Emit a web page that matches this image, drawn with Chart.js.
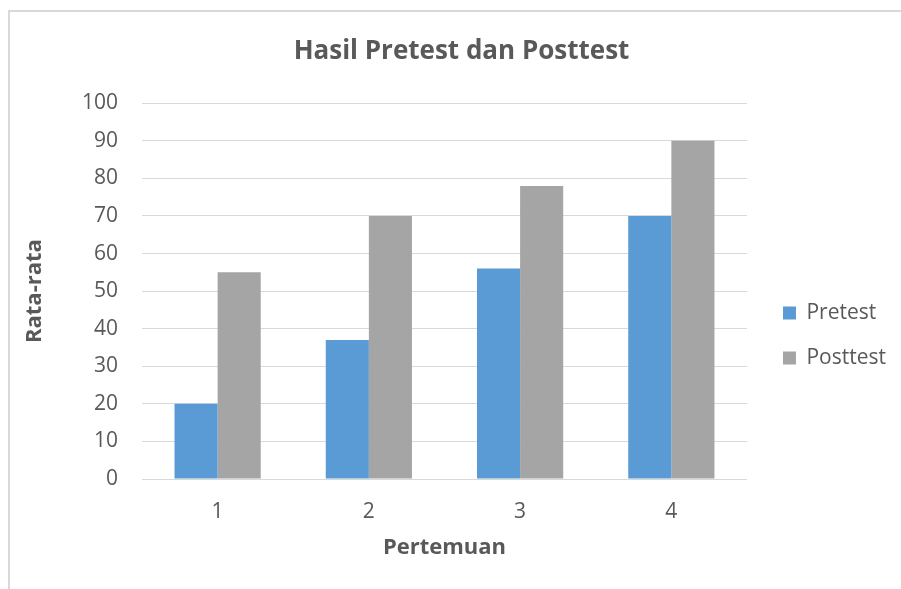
<!DOCTYPE html>
<html>
<head>
<meta charset="utf-8">
<script src="https://cdn.jsdelivr.net/npm/chart.js@4.4.1/dist/chart.umd.min.js"></script>
<style>
  html, body { margin: 0; padding: 0; background: #ffffff; }
  #wrap { position: relative; width: 901px; height: 589px; overflow: hidden; }
  #frame { position: absolute; left: 8px; top: 10px; width: 1000px; height: 1000px;
           border-left: 2px solid #D9D9D9; border-top: 2px solid #D9D9D9; box-sizing: border-box; }
  canvas { position: absolute; left: 0; top: 0; }
</style>
</head>
<body>
<div id="wrap">
  <div id="frame"></div>
  <canvas id="c" width="901" height="589"></canvas>
</div>
<script>
const categories = ['1', '2', '3', '4'];
const pretest = [20, 37, 56, 70];
const posttest = [55, 70, 78, 90];
const seriesNames = ['Pretest', 'Posttest'];
const chartTitle = 'Hasil Pretest dan Posttest';
const xTitle = 'Pertemuan';
const yTitle = 'Rata-rata';

const FONT = "'Open Sans', sans-serif";
const TXT = '#595959';

new Chart(document.getElementById('c'), {
  type: 'bar',
  data: {
    labels: categories,
    datasets: [
      { label: seriesNames[0], data: pretest, backgroundColor: '#5B9BD5', borderWidth: 0 },
      { label: seriesNames[1], data: posttest, backgroundColor: '#A5A5A5', borderWidth: 0 }
    ]
  },
  options: {
    responsive: false,
    animation: false,
    devicePixelRatio: 1,
    categoryPercentage: 0.57,
    barPercentage: 1.0,
    layout: { padding: { left: 27, right: 5, top: 36, bottom: 24 } },
    plugins: {
      title: {
        display: true, text: chartTitle, color: TXT,
        font: { family: FONT, size: 26, weight: 'bold' },
        padding: { top: 0, bottom: 36 }
      },
      legend: {
        position: 'right',
        title: { display: true, text: '', padding: 23, font: { size: 20 } },
        labels: {
          color: TXT, boxWidth: 13, boxHeight: 13, padding: 24,
          font: { family: FONT, size: 21 }
        }
      },
      tooltip: { enabled: false }
    },
    scales: {
      x: {
        grid: { display: false, drawTicks: false },
        border: { display: false },
        ticks: { color: TXT, font: { family: FONT, size: 21 }, padding: 20 },
        title: { display: true, text: xTitle, color: TXT, font: { family: FONT, size: 22, weight: 'bold' }, padding: { top: 4, bottom: 4 } },
        afterFit: (s) => { s.height = 86; }
      },
      y: {
        min: 0, max: 100,
        grid: { color: '#D9D9D9', lineWidth: 1, drawTicks: false },
        border: { display: false },
        ticks: { stepSize: 10, color: TXT, font: { family: FONT, size: 21 }, padding: 24 },
        title: { display: true, text: yTitle, color: TXT, font: { family: FONT, size: 22, weight: 'bold' }, padding: { top: -5, bottom: 0 } },
        afterFit: (s) => { s.width = 115; }
      },
      yGap: {
        position: 'right',
        display: true,
        grid: { display: false, drawTicks: false },
        border: { display: false },
        ticks: { display: false },
        afterFit: (s) => { s.width = 12; }
      }
    }
  }
});
</script>
</body>
</html>
